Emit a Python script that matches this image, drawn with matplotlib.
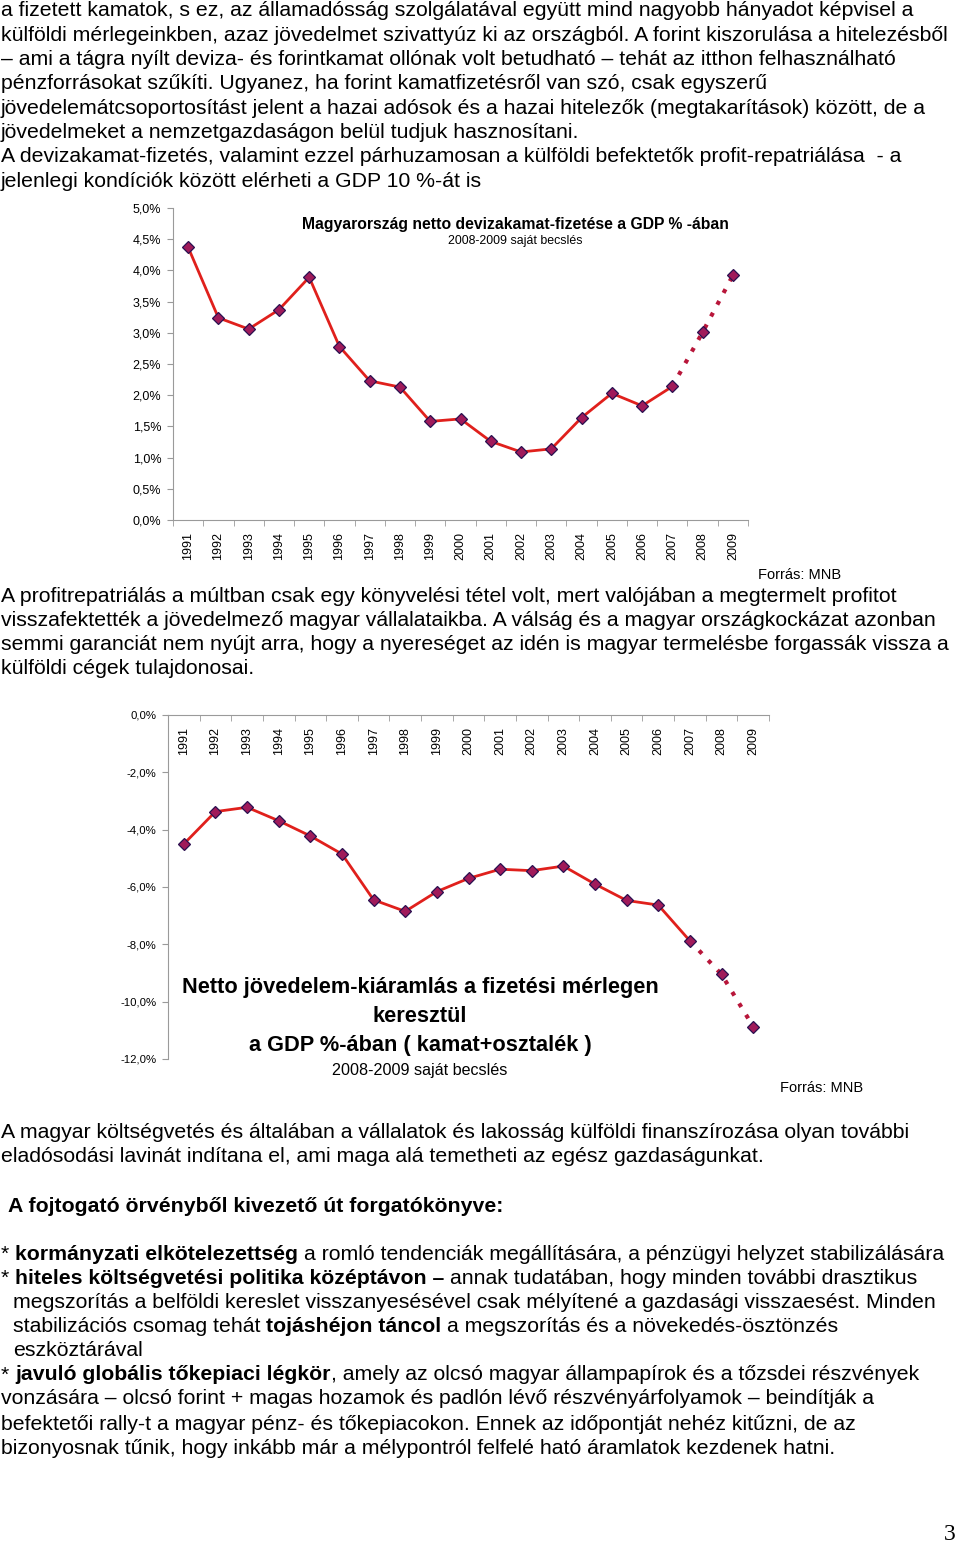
import matplotlib
matplotlib.use('Agg')
import matplotlib.pyplot as plt
from matplotlib.ticker import FuncFormatter, MultipleLocator, FixedLocator
import numpy as np

plt.rcParams['font.family'] = ['Liberation Sans', 'DejaVu Sans']

# adatok (% a GDP-ben)
evek = [str(e) for e in range(1991, 2010)]
devizakamat = [4.37, 3.24, 3.06, 3.37, 3.89, 2.78, 2.23, 2.13, 1.58, 1.62,
               1.26, 1.09, 1.14, 1.64, 2.03, 1.83, 2.14, 3.01, 3.92]
kiaramlas = [-4.50, -3.37, -3.22, -3.69, -4.22, -4.85, -6.45, -6.85, -6.16, -5.70,
             -5.38, -5.43, -5.27, -5.90, -6.47, -6.63, -7.88, -9.05, -10.87]
n_teny = 17  # 1991-2007 tény, 2008-2009 saját becslés

W, H = 960, 1545
BODY = 15.3
PIROS = '#e0201c'
PONTOZOTT = '#b8163a'
SZURKE = '#9a9a9a'

fig = plt.figure(figsize=(W / 100, H / 100), dpi=100)
rend = fig.canvas.get_renderer()


def fx(x):
    return x / W


def fy(y):
    return 1 - y / H


def szel(s, bold):
    # szélesség szóközökkel együtt
    prop = matplotlib.font_manager.FontProperties(family=['Liberation Sans', 'DejaVu Sans'],
                                                  size=BODY, weight='bold' if bold else 'normal')
    w1 = rend.get_text_width_height_descent('|' + s + '|', prop, ismath=False)[0]
    w0 = rend.get_text_width_height_descent('||', prop, ismath=False)[0]
    return w1 - w0


def sor(y, darabok, x0=1):
    if isinstance(darabok, str):
        darabok = [(darabok, False)]
    x = x0
    for s, bold in darabok:
        lead = len(s) - len(s.lstrip())
        if s.strip():
            fig.text(fx(x + szel(s[:lead], bold) if lead else x), fy(y), s.strip(),
                     fontsize=BODY, fontweight='bold' if bold else 'normal',
                     ha='left', va='center', color='black')
        x += szel(s, bold)


# --- felső bekezdés ---
felso = [
    "a fizetett kamatok, s ez, az államadósság szolgálatával együtt mind nagyobb hányadot képvisel a",
    "külföldi mérlegeinkben, azaz jövedelmet szivattyúz ki az országból. A forint kiszorulása a hitelezésből",
    "– ami a tágra nyílt deviza- és forintkamat ollónak volt betudható – tehát az itthon felhasználható",
    "pénzforrásokat szűkíti. Ugyanez, ha forint kamatfizetésről van szó, csak egyszerű",
    "jövedelemátcsoportosítást jelent a hazai adósok és a hazai hitelezők (megtakarítások) között, de a",
    "jövedelmeket a nemzetgazdaságon belül tudjuk hasznosítani.",
    "A devizakamat-fizetés, valamint ezzel párhuzamosan a külföldi befektetők profit-repatriálása  - a",
    "jelenlegi kondíciók között elérheti a GDP 10 %-át is",
]
for i, s in enumerate(felso):
    sor(11 + i * 24.3, s)

kozepso = [
    "A profitrepatriálás a múltban csak egy könyvelési tétel volt, mert valójában a megtermelt profitot",
    "visszafektették a jövedelmező magyar vállalataikba. A válság és a magyar országkockázat azonban",
    "semmi garanciát nem nyújt arra, hogy a nyereséget az idén is magyar termelésbe forgassák vissza a",
    "külföldi cégek tulajdonosai.",
]
for i, s in enumerate(kozepso):
    sor(596 + i * 24.2, s)

sor(1133, "A magyar költségvetés és általában a vállalatok és lakosság külföldi finanszírozása olyan további")
sor(1157, "eladósodási lavinát indítana el, ami maga alá temetheti az egész gazdaságunkat.")

sor(1206, [("A fojtogató örvényből kivezető út forgatókönyve:", True)], x0=8)

sor(1254, [("* ", False), ("kormányzati elkötelezettség", True),
           (" a romló tendenciák megállítására, a pénzügyi helyzet stabilizálására", False)])
sor(1278, [("* ", False), ("hiteles költségvetési politika középtávon –", True),
           (" annak tudatában, hogy minden további drasztikus", False)])
sor(1303, "megszorítás a belföldi kereslet visszanyesésével csak mélyítené a gazdasági visszaesést. Minden", x0=13)
sor(1327, [("stabilizációs csomag tehát ", False), ("tojáshéjon táncol", True),
           (" a megszorítás és a növekedés-ösztönzés", False)], x0=13)
sor(1351, "eszköztárával", x0=13)
sor(1375, [("* ", False), ("javuló globális tőkepiaci légkör", True),
           (", amely az olcsó magyar állampapírok és a tőzsdei részvények", False)])
sor(1399, "vonzására – olcsó forint + magas hozamok és padlón lévő részvényárfolyamok – beindítják a")
sor(1424, "befektetői rally-t a magyar pénz- és tőkepiacokon. Ennek az időpontját nehéz kitűzni, de az")
sor(1448, "bizonyosnak tűnik, hogy inkább már a mélypontról felfelé ható áramlatok kezdenek hatni.")

fig.text(fx(950), fy(1535), "3", fontsize=17, family='Liberation Serif', ha='center', va='center')

szazalek = FuncFormatter(lambda v, p: f"{v:.1f}%".replace('.', ','))
x = np.arange(len(evek))


def rajzol(ax, ertekek, xpad, ymeret):
    ax.plot(x[:n_teny], ertekek[:n_teny], color=PIROS, lw=2, zorder=2)
    ax.plot(x[n_teny - 1:], ertekek[n_teny - 1:], color=PONTOZOTT, lw=3,
            ls=(0, (1, 2.2)), zorder=2)
    ax.plot(x, ertekek, ls='none', marker='D', ms=5.8, mfc='#a01a5a', mec='#2a1050',
            mew=0.9, zorder=3)
    ax.set_xlim(-0.5, len(evek) - 0.5)
    ax.set_xticks(x)
    ax.set_xticklabels(evek, rotation=90, fontsize=9)
    ax.xaxis.set_minor_locator(FixedLocator(np.arange(-0.5, len(evek), 1)))
    ax.tick_params(axis='x', which='major', length=0, pad=xpad)
    ax.tick_params(axis='x', which='minor', length=4, color=SZURKE, direction='out')
    ax.tick_params(axis='y', length=4, color=SZURKE, direction='out', labelsize=ymeret, pad=4.5)
    ax.yaxis.set_major_formatter(szazalek)
    ax.spines['right'].set_visible(False)
    ax.spines['top'].set_visible(False)
    ax.spines['left'].set_color(SZURKE)
    ax.spines['bottom'].set_color(SZURKE)
    ax.patch.set_alpha(0)


# --- 1. diagram ---
ax1 = fig.add_axes([fx(173), fy(520), 575 / W, 312 / H])
ax1.set_ylim(0, 5)
rajzol(ax1, devizakamat, 8.5, 9)
ax1.yaxis.set_major_locator(MultipleLocator(0.5))
fig.text(fx(515), fy(224), "Magyarország netto devizakamat-fizetése a GDP % -ában",
         fontsize=11.3, fontweight='bold', ha='center', va='center')
fig.text(fx(515), fy(241), "2008-2009 saját becslés", fontsize=8.9, ha='center', va='center')
fig.text(fx(800), fy(575), "Forrás: MNB", fontsize=10.5, ha='center', va='center')

# --- 2. diagram ---
ax2 = fig.add_axes([fx(168), fy(1059), 601 / W, 344 / H])
ax2.set_ylim(-12, 0)
ax2.spines['bottom'].set_position(('data', 0))
rajzol(ax2, kiaramlas, 9, 8.2)
ax2.yaxis.set_major_locator(MultipleLocator(2))
for i, s in enumerate(["Netto jövedelem-kiáramlás a fizetési mérlegen",
                       "keresztül",
                       "a GDP %-ában ( kamat+osztalék )"]):
    fig.text(fx(420), fy(988 + i * 29), s, fontsize=15.7, fontweight='bold', ha='center', va='center')
fig.text(fx(420), fy(1070), "2008-2009 saját becslés", fontsize=11.6, ha='center', va='center')
fig.text(fx(822), fy(1088), "Forrás: MNB", fontsize=10.5, ha='center', va='center')

fig.savefig('out.png', dpi=100, facecolor='white')
